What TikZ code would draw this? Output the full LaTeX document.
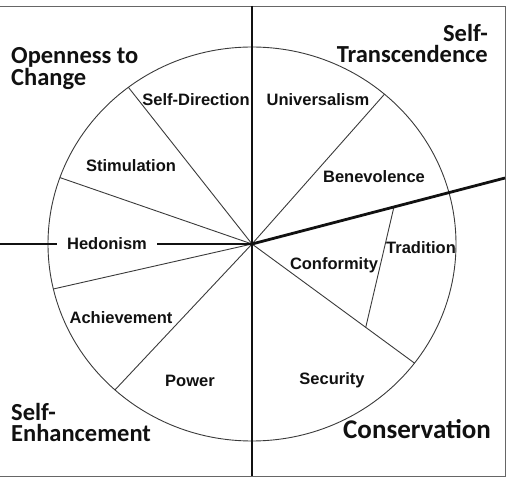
\documentclass[tikz,border=0pt]{standalone}
\usepackage{fontspec}
\setmainfont{Liberation Sans}
\newfontfamily\headfont{Carlito}
\usetikzlibrary{calc}
\definecolor{ink}{HTML}{111111}
\definecolor{line}{HTML}{3A3A3A}
\definecolor{frame}{HTML}{666666}

\begin{document}
\begin{tikzpicture}[
  x=1pt,y=1pt,text=ink,
  spoke/.style={draw=line,line width=.9pt},
  axis/.style={draw=ink,line width=2.8pt},
  value/.style={font=\fontsize{16.5}{18}\selectfont\bfseries,inner sep=1pt},
  group/.style={font=\headfont\fontsize{24.5}{21}\selectfont\bfseries,inner sep=0pt}
]
  \useasboundingbox (-252,-238) rectangle (255,244);
  \draw[draw=frame,line width=.8pt]
    (-252,238) -- (253,238) -- (253,-232) -- (-252,-232);
  \coordinate (c) at (0,0);
  \coordinate (east) at (253,66);
  \coordinate (west) at (-252,0);
  \coordinate (top) at (0,238);
  \coordinate (bottom) at (0,-232);

  \draw[spoke] (c) ellipse [x radius=204,y radius=197];
  \foreach \a/\n in {127.3/sd,160.3/st,193.2/he,227.8/ac,49.5/un,-37.2/co}
    \draw[spoke] (c) -- ({204*cos(\a)},{197*sin(\a)}) coordinate (\n);
  \draw[spoke] ($(c)!.561!(east)$) -- ($(c)!.70!(co)$);

  \draw[axis] (top) -- (bottom);
  \draw[axis] (c) -- (east);
  \draw[axis] (west) -- (c);

  \node[value,fill=white,inner xsep=10pt] (hedonism) at (-145,0) {Hedonism};
  \foreach \x/\y/\n/\t in {-56/144/selfdirection/Self-Direction,
      -121/78/stimulation/Stimulation,-131/-74/achievement/Achievement,
      -62/-137/power/Power,66/144/universalism/Universalism,
      122/67/benevolence/Benevolence,169/-4/tradition/Tradition,
      82/-21/conformity/Conformity,80/-136/security/Security}
    \node[value] (\n) at (\x,\y) {\t};

  \node[group,align=left,anchor=north west] (openness) at (-241,197)
    {Openness to\\Change};
  \node[group,align=right,anchor=north east] (transcendence) at (236,219.5)
    {Self-\\Transcendence};
  \node[group,align=left,anchor=north west] (enhancement) at (-241,-159)
    {Self-\\Enhancement};
  \node[group,font=\headfont\fontsize{27}{27}\selectfont\bfseries,
    anchor=base west] (conservation) at (91,-195) {Conservation};
\end{tikzpicture}
\end{document}
